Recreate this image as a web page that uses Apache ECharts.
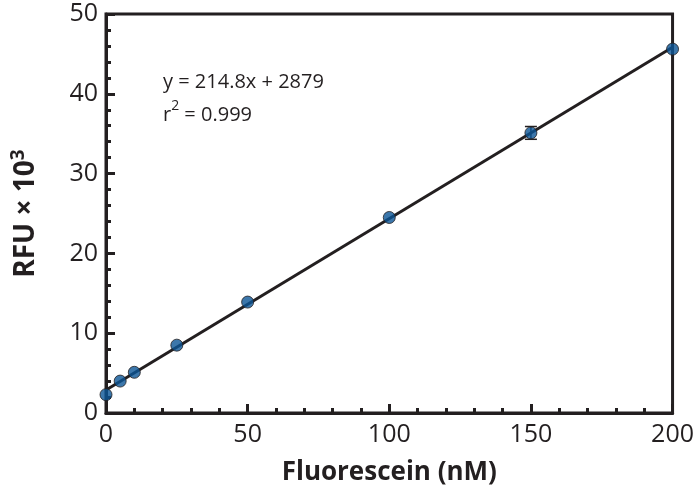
<!DOCTYPE html>
<html>
<head>
<meta charset="utf-8">
<script src="https://cdn.jsdelivr.net/npm/echarts@6/dist/echarts.min.js"></script>
<style>html,body{margin:0;padding:0;background:#fff}#c{width:697px;height:494px}</style>
</head>
<body>
<div id="c"></div>
<script>
// Data (RFU in thousands)
const concentrations = [0, 5, 10, 25, 50, 100, 150, 200];
const rfu = [2.3, 4.0, 5.1, 8.5, 13.9, 24.5, 35.1, 45.6];
const rfuErr = [0, 0, 0, 0, 0, 0, 0.8, 0];
const fitLine = [[0, 2.879], [200, 45.84]];
const equationLines = ['y = 214.8x + 2879', 'r{sup|2} = 0.999'];

const ink = '#231f20';
const font = 'Open Sans';
const chart = echarts.init(document.getElementById('c'));

const points = concentrations.map((x, i) => [x, rfu[i]]);
const errData = concentrations.map((x, i) => [x, rfu[i] - rfuErr[i], rfu[i] + rfuErr[i]]);

chart.setOption({
  animation: false,
  grid: { left: 106, right: 21, top: 14, bottom: 81, show: true, borderColor: ink, borderWidth: 3, backgroundColor: 'transparent' },
  xAxis: {
    type: 'value', min: 0, max: 200, interval: 50,
    name: 'Fluorescein (nM)', nameLocation: 'middle', nameGap: 47,
    nameTextStyle: { fontFamily: font, fontWeight: 'bold', fontSize: 26, color: ink },
    axisLine: { lineStyle: { color: ink, width: 3 } },
    axisTick: { inside: true, length: 9, lineStyle: { color: ink, width: 3 } },
    minorTick: { show: true, splitNumber: 5, length: 5, lineStyle: { color: ink, width: 3 } },
    axisLabel: { fontFamily: font, fontSize: 25, color: ink, margin: 9 },
    splitLine: { show: false }
  },
  yAxis: {
    type: 'value', min: 0, max: 50, interval: 10,
    name: '{b|RFU × 10}{s|3}', nameLocation: 'middle', nameGap: 62,
    nameTextStyle: {
      rich: {
        b: { fontFamily: font, fontWeight: 'bold', fontSize: 28, color: ink },
        s: { fontFamily: font, fontWeight: 'bold', fontSize: 19, color: ink, verticalAlign: 'top', padding: [0, 0, 16, 0] }
      }
    },
    axisLine: { lineStyle: { color: ink, width: 3 } },
    axisTick: { inside: true, length: 9, lineStyle: { color: ink, width: 3 } },
    minorTick: { show: true, splitNumber: 5, length: 5, lineStyle: { color: ink, width: 3 } },
    axisLabel: { fontFamily: font, fontSize: 25, color: ink, margin: 8 },
    splitLine: { show: false }
  },
  graphic: [{
    type: 'text', left: 163, top: 66,
    style: {
      text: equationLines.join('\n'),
      font: '20px "Open Sans"', fill: ink, lineHeight: 33,
      rich: { sup: { font: '14px "Open Sans"', fill: ink, verticalAlign: 'top', padding: [0, 0, 8, 0] } }
    }
  }],
  series: [
    {
      type: 'line', data: fitLine, symbol: 'none', z: 2,
      lineStyle: { color: ink, width: 3 }
    },
    {
      type: 'custom', z: 3,
      data: errData,
      renderItem: function (params, api) {
        const x = api.value(0);
        const lo = api.coord([x, api.value(1)]);
        const hi = api.coord([x, api.value(2)]);
        if (Math.abs(hi[1] - lo[1]) < 1) return null;
        const w = 6;
        const st = { stroke: ink, lineWidth: 1.5 };
        return {
          type: 'group',
          children: [
            { type: 'line', shape: { x1: lo[0], y1: lo[1], x2: hi[0], y2: hi[1] }, style: st },
            { type: 'line', shape: { x1: lo[0] - w, y1: lo[1], x2: lo[0] + w, y2: lo[1] }, style: st },
            { type: 'line', shape: { x1: hi[0] - w, y1: hi[1], x2: hi[0] + w, y2: hi[1] }, style: st }
          ]
        };
      }
    },
    {
      type: 'scatter', data: points, symbol: 'circle', symbolSize: 12, z: 4,
      itemStyle: { color: '#0b5596', borderColor: ink, borderWidth: 1 }
    }
  ]
});
</script>
</body>
</html>
